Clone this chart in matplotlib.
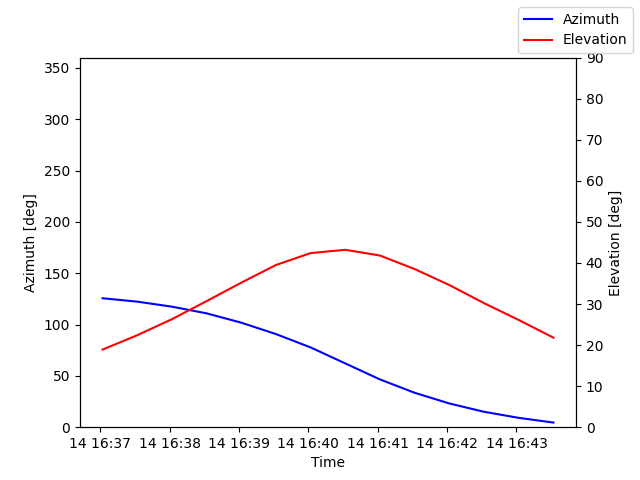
import datetime as dt

import matplotlib
matplotlib.use("Agg")
import matplotlib.pyplot as plt

# pass sampled every 30 s
start = dt.datetime(2024, 3, 14, 16, 37, 2)
times = [start + dt.timedelta(seconds=30 * i) for i in range(14)]

azimuth = [125.6, 122.3, 117.4, 110.9, 101.8, 90.7, 77.7,
           62.1, 46.5, 33.5, 23.1, 15.0, 9.1, 4.5]
elevation = [18.9, 22.4, 26.3, 30.7, 35.2, 39.5, 42.4,
             43.2, 41.8, 38.5, 34.6, 30.2, 26.1, 21.8]

fig, ax = plt.subplots(figsize=(6.4, 4.8), dpi=100)
ax.plot(times, azimuth, color="blue", label="Azimuth")
ax.set_ylim(0, 360)
ax.set_ylabel("Azimuth [deg]")
ax.set_xlabel("Time")

ax2 = ax.twinx()
ax2.plot(times, elevation, color="red", label="Elevation")
ax2.set_ylim(0, 90)
ax2.set_ylabel("Elevation [deg]")

fig.legend(loc="upper right")
fig.savefig("out.png")
